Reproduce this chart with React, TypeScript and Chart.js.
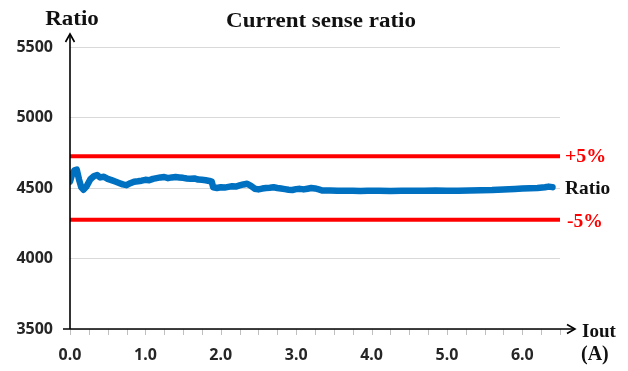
import React, { useEffect, useRef } from "react";
import { Chart, registerables } from "chart.js";

Chart.register(...registerables);

// Output current (A)
const ioutValues: number[] = [
  0.0, 0.03, 0.06, 0.09, 0.12, 0.15, 0.18, 0.22, 0.27, 0.32, 0.36, 0.4, 0.45, 0.5, 0.55, 0.6, 0.65, 0.7, 0.75,
  0.8, 0.85, 0.9, 0.95, 1.0, 1.05, 1.1, 1.15, 1.2, 1.25, 1.3, 1.35, 1.4, 1.45, 1.5, 1.55, 1.6, 1.65, 1.7, 1.75,
  1.8, 1.85, 1.88, 1.9, 1.95, 2.0, 2.05, 2.1, 2.15, 2.2, 2.25, 2.3, 2.35, 2.4, 2.45, 2.5, 2.55, 2.6, 2.65, 2.7,
  2.75, 2.8, 2.85, 2.9, 2.95, 3.0, 3.05, 3.1, 3.15, 3.2, 3.25, 3.3, 3.35, 3.45, 3.55, 3.65, 3.75, 3.85, 3.95,
  4.1, 4.25, 4.4, 4.55, 4.7, 4.85, 5.0, 5.15, 5.3, 5.45, 5.6, 5.75, 5.9, 6.0, 6.1, 6.2, 6.3, 6.35, 6.4,
];

// Current sense ratio
const ratioValues: number[] = [
  4545, 4600, 4625, 4630, 4560, 4505, 4488, 4512, 4562, 4585, 4592, 4575, 4580, 4565, 4556, 4546, 4536, 4526, 4520,
  4534, 4545, 4548, 4552, 4558, 4555, 4565, 4570, 4575, 4578, 4570, 4575, 4578, 4575, 4572, 4568, 4565, 4568, 4560, 4558,
  4555, 4550, 4545, 4505, 4500, 4505, 4503, 4508, 4512, 4510, 4518, 4525, 4530, 4515, 4495, 4490, 4496, 4500, 4502, 4505,
  4500, 4496, 4492, 4488, 4486, 4492, 4494, 4490, 4495, 4500, 4497, 4490, 4482, 4483, 4481, 4480, 4481, 4479, 4480,
  4481, 4479, 4480, 4481, 4480, 4482, 4481, 4480, 4482, 4484, 4486, 4490, 4493, 4496, 4498, 4500, 4505, 4510, 4506,
];

const upperLimit = 4725; // +5%
const lowerLimit = 4275; // -5%
const limitRange: number[] = [0, 6.5];

const xMin = 0;
const xMax = 6.5;
const xStep = 1;
const xMinorStep = 0.25;
const yMin = 3500;
const yMax = 5500;
const yStep = 500;

const titleText = "Current sense ratio";
const yAxisTitle = "Ratio";
const xAxisTitle = ["Iout", "(A)"];
const upperLabel = "+5%";
const lowerLabel = "-5%";
const seriesLabel = "Ratio";

const SERIF = "'Liberation Serif', 'Times New Roman', serif";

function drawText(
  ctx: CanvasRenderingContext2D,
  text: string,
  x: number,
  y: number,
  size: number,
  color: string,
  align: CanvasTextAlign,
  sx: number
) {
  ctx.save();
  ctx.translate(x, y);
  ctx.scale(sx, 1);
  ctx.font = `bold ${size}px ${SERIF}`;
  ctx.fillStyle = color;
  ctx.textAlign = align;
  ctx.textBaseline = "alphabetic";
  ctx.fillText(text, 0, 0);
  ctx.restore();
}

const decorPlugin = {
  id: "decor",
  afterDraw(chart: any) {
    const ctx: CanvasRenderingContext2D = chart.ctx;
    const xs = chart.scales.x;
    const ys = chart.scales.y;
    const x0 = xs.getPixelForValue(xMin);
    const xEnd = xs.getPixelForValue(xMax);
    const yBottom = ys.getPixelForValue(yMin);
    const yTop = ys.getPixelForValue(yMax);

    // minor ticks on x axis
    ctx.save();
    ctx.strokeStyle = "#bfbfbf";
    ctx.lineWidth = 1;
    for (let v = xMin; v <= xMax + 1e-9; v += xMinorStep) {
      const px = Math.round(xs.getPixelForValue(v)) + 0.5;
      ctx.beginPath();
      ctx.moveTo(px, yBottom);
      ctx.lineTo(px, yBottom + 6);
      ctx.stroke();
    }
    ctx.restore();

    // axes with arrows
    ctx.save();
    ctx.strokeStyle = "#000";
    ctx.lineWidth = 1.6;
    ctx.lineCap = "butt";
    // y axis
    const yTip = yTop - 13;
    ctx.beginPath();
    ctx.moveTo(x0, yBottom);
    ctx.lineTo(x0, yTip);
    ctx.stroke();
    ctx.beginPath();
    ctx.moveTo(x0 - 4.5, yTip + 8);
    ctx.lineTo(x0, yTip);
    ctx.lineTo(x0 + 4.5, yTip + 8);
    ctx.stroke();
    // x axis
    const xTip = xEnd + 15;
    ctx.beginPath();
    ctx.moveTo(x0 - 7, yBottom);
    ctx.lineTo(xTip, yBottom);
    ctx.stroke();
    ctx.beginPath();
    ctx.moveTo(xTip - 8, yBottom - 4.5);
    ctx.lineTo(xTip, yBottom);
    ctx.lineTo(xTip - 8, yBottom + 4.5);
    ctx.stroke();
    ctx.restore();

    // texts
    const yUp = ys.getPixelForValue(upperLimit);
    const yLo = ys.getPixelForValue(lowerLimit);
    const yLast = ys.getPixelForValue(4500);
    drawText(ctx, yAxisTitle, x0 + 2, 25, 20, "#111", "center", 1.15);
    drawText(ctx, titleText, 321, 27, 20, "#111", "center", 1.15);
    drawText(ctx, upperLabel, xEnd + 5, yUp + 6, 19, "#ff0000", "left", 1.05);
    drawText(ctx, seriesLabel, xEnd + 5, yLast + 6, 19, "#111", "left", 1.02);
    drawText(ctx, lowerLabel, xEnd + 7, yLo + 7, 19, "#ff0000", "left", 1.03);
    drawText(ctx, xAxisTitle[0], xEnd + 22, yBottom + 8, 19, "#111", "left", 1.0);
    drawText(ctx, xAxisTitle[1], xEnd + 21, yBottom + 31, 20, "#111", "left", 1.0);
  },
};

export default function App() {
  const ref = useRef<HTMLCanvasElement | null>(null);

  useEffect(() => {
    if (!ref.current) return;
    const tickFont = { family: "'Noto Sans', 'DejaVu Sans', sans-serif", size: 16, weight: "bold" as const };
    const chart = new Chart(ref.current, {
      type: "line",
      data: {
        datasets: [
          {
            label: "+5%",
            data: limitRange.map((x) => ({ x, y: upperLimit })),
            borderColor: "#ff0000",
            borderWidth: 4,
            pointRadius: 0,
            tension: 0,
          },
          {
            label: "-5%",
            data: limitRange.map((x) => ({ x, y: lowerLimit })),
            borderColor: "#ff0000",
            borderWidth: 4,
            pointRadius: 0,
            tension: 0,
          },
          {
            label: seriesLabel,
            data: ioutValues.map((x, i) => ({ x, y: ratioValues[i] })),
            borderColor: "#0070c0",
            borderWidth: 6.5,
            pointRadius: 0,
            tension: 0,
            borderCapStyle: "round",
            borderJoinStyle: "round",
          },
        ],
      },
      options: {
        animation: false,
        responsive: false,
        maintainAspectRatio: false,
        layout: { padding: { top: 47, right: 68, bottom: 0, left: 0 } },
        plugins: {
          legend: { display: false },
          tooltip: { enabled: false },
          title: { display: false },
        },
        scales: {
          x: {
            type: "linear",
            min: xMin,
            max: xMax,
            grid: { display: false, drawTicks: false },
            border: { display: false },
            ticks: {
              stepSize: xStep,
              includeBounds: false,
              autoSkip: false,
              maxRotation: 0,
              padding: 17,
              color: "#262626",
              font: tickFont,
              callback: (v: any) => Number(v).toFixed(1),
            },
            afterFit: (s: any) => {
              s.height = 42;
            },
          },
          y: {
            type: "linear",
            min: yMin,
            max: yMax,
            grid: { color: "#d9d9d9", lineWidth: 1, drawTicks: false },
            border: { display: false },
            ticks: {
              stepSize: yStep,
              padding: 17,
              color: "#262626",
              font: tickFont,
              callback: (v: any) => String(Math.round(Number(v))),
            },
            afterFit: (s: any) => {
              s.width = 70;
            },
          },
        },
      },
      plugins: [decorPlugin],
    });
    return () => chart.destroy();
  }, []);

  return (
    <div style={{ position: "fixed", left: 0, top: 0, width: 628, height: 371, background: "#fff" }}>
      <canvas ref={ref} width={628} height={371} style={{ display: "block" }} />
    </div>
  );
}
